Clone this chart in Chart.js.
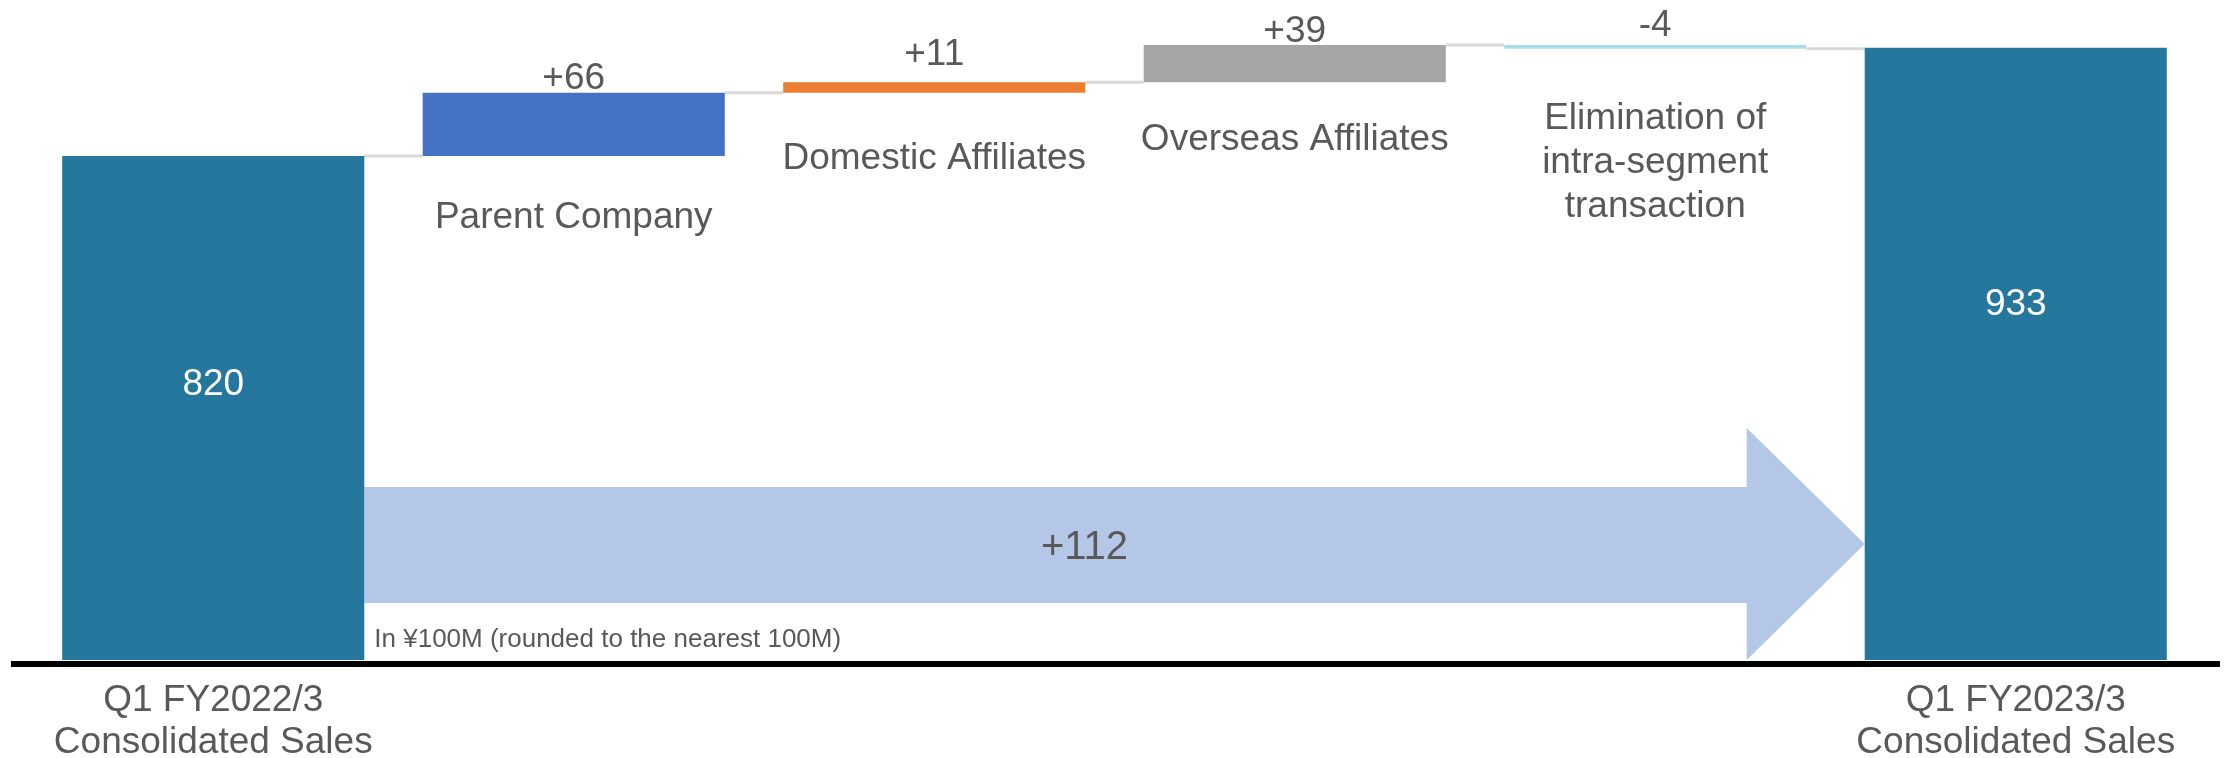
<!DOCTYPE html>
<html>
<head>
<meta charset="utf-8">
<script src="https://cdn.jsdelivr.net/npm/chart.js@4.4.1/dist/chart.umd.min.js"></script>
<style>
  body { margin: 0; background: #fff; }
  #wrap { width: 2224px; height: 758px; position: relative; }
</style>
</head>
<body>
<div id="wrap"><canvas id="bridgeChart"></canvas></div>
<script>
// values in 100M yen
const axisLabels = [['Q1 FY2022/3', 'Consolidated Sales'], '', '', '', '', ['Q1 FY2023/3', 'Consolidated Sales']];
const segmentNames = [[], ['Parent Company'], ['Domestic Affiliates'], ['Overseas Affiliates'], ['Elimination of', 'intra-segment', 'transaction'], []];
const startSales = 820;
const endSales = 933;
const changes = [66, 11, 39, -4];
const totalChange = 112;
const axisMin = 293;
const axisMax = 983;

const barColors = ['#25779d', '#4472c4', '#ed7d31', '#a5a5a5', '#a9dcec', '#25779d'];
const textColor = '#595959';
const fontFamily = '"Liberation Sans", Arial, sans-serif';

// build floating bars [from, to]
let level = startSales;
const levels = [startSales];
const floating = [[axisMin, startSales]];
changes.forEach(c => {
  floating.push([level, level + c]);
  level += c;
  levels.push(level);
});
floating.push([axisMin, endSales]);

const fmt = v => (v > 0 ? '+' : '') + v;

// per-bar label placement (px)
const valueLift = [0, 14, 27, 13, 19, 0];
const nameDrop = [0, 62, 66, 58, 70, 0];
const insidePos = [0.455, 0, 0, 0, 0, 0.42];

const bridgeDecor = {
  id: 'bridgeDecor',
  beforeDatasetsDraw(chart) {
    const ctx = chart.ctx;
    const bars = chart.getDatasetMeta(0).data;
    const area = chart.chartArea;
    const x0 = bars[0].x + bars[0].width / 2;
    const x1 = bars[5].x - bars[5].width / 2;
    const bottom = area.bottom;
    const headTop = bottom - 232, headBot = bottom;
    const shaftTop = bottom - 173, shaftBot = bottom - 57;
    const mid = (headTop + headBot) / 2;
    const headX = x1 - 118;
    ctx.save();
    ctx.fillStyle = '#b4c7e7';
    ctx.beginPath();
    ctx.moveTo(x0, shaftTop);
    ctx.lineTo(headX, shaftTop);
    ctx.lineTo(headX, headTop);
    ctx.lineTo(x1, mid);
    ctx.lineTo(headX, headBot);
    ctx.lineTo(headX, shaftBot);
    ctx.lineTo(x0, shaftBot);
    ctx.closePath();
    ctx.fill();

    ctx.fillStyle = textColor;
    ctx.textAlign = 'center';
    ctx.textBaseline = 'middle';
    ctx.font = '40px ' + fontFamily;
    ctx.fillText('+' + totalChange, x0 + (x1 - x0) * 0.48, mid + 4);

    ctx.textAlign = 'left';
    ctx.font = '26px ' + fontFamily;
    ctx.fillText('In ¥100M (rounded to the nearest 100M)', x0 + 10, bottom - 20);

    // connectors
    const y = chart.scales.y;
    ctx.strokeStyle = '#d9d9d9';
    ctx.lineWidth = 3;
    for (let i = 0; i < bars.length - 1; i++) {
      const py = y.getPixelForValue(levels[i]);
      ctx.beginPath();
      ctx.moveTo(bars[i].x + bars[i].width / 2, py);
      ctx.lineTo(bars[i + 1].x - bars[i + 1].width / 2, py);
      ctx.stroke();
    }
    ctx.restore();
  },
  afterDatasetsDraw(chart) {
    const ctx = chart.ctx;
    const bars = chart.getDatasetMeta(0).data;
    ctx.save();
    ctx.textAlign = 'center';
    ctx.textBaseline = 'middle';
    ctx.font = '37px ' + fontFamily;
    bars.forEach((b, i) => {
      const top = Math.min(b.y, b.base);
      const bot = Math.max(b.y, b.base);
      if (i === 0 || i === bars.length - 1) {
        ctx.fillStyle = '#ffffff';
        ctx.fillText(String(i === 0 ? startSales : endSales), b.x, top + (bot - top) * insidePos[i]);
      } else {
        ctx.fillStyle = textColor;
        ctx.fillText(fmt(changes[i - 1]), b.x, top - valueLift[i]);
        segmentNames[i].forEach((line, k) => {
          ctx.fillText(line, b.x, bot + nameDrop[i] + k * 44);
        });
      }
    });
    // base line
    const area = chart.chartArea;
    ctx.fillStyle = '#000000';
    ctx.fillRect(11, area.bottom + 1, 2209, 6);
    ctx.restore();
  }
};

new Chart(document.getElementById('bridgeChart'), {
  type: 'bar',
  data: {
    labels: axisLabels,
    datasets: [{
      data: floating,
      backgroundColor: barColors,
      borderWidth: 0,
      barPercentage: 0.838,
      categoryPercentage: 1
    }]
  },
  options: {
    responsive: true,
    maintainAspectRatio: false,
    animation: false,
    layout: { padding: { left: 33, right: 28, top: 0, bottom: 0 } },
    plugins: { legend: { display: false }, tooltip: { enabled: false } },
    scales: {
      x: {
        grid: { display: false, drawTicks: false },
        border: { display: false },
        ticks: {
          color: textColor,
          font: { family: fontFamily, size: 37, lineHeight: 1.14 },
          padding: 20,
          maxRotation: 0,
          autoSkip: false
        },
        afterFit(scale) { scale.height = 98; }
      },
      y: {
        display: false,
        min: axisMin,
        max: axisMax
      }
    }
  },
  plugins: [bridgeDecor]
});
</script>
</body>
</html>
